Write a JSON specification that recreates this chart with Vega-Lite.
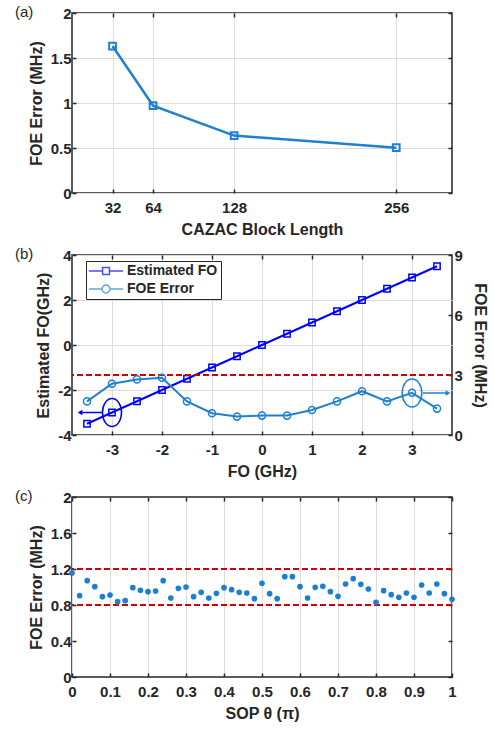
{
  "$schema": "https://vega.github.io/schema/vega-lite/v6.json",
  "padding": {"left": 14, "top": 4, "right": 5, "bottom": 5},
  "spacing": 62,
  "bounds": "flush",
  "config": {
    "font": "Liberation Sans",
    "view": {"stroke": "#262626", "strokeWidth": 1.5},
    "axis": {"domain": false, "labelFlush": false, "labelFont": "Liberation Sans", "labelFontWeight": "bold", "labelFontSize": 15, "labelColor": "#262626", "titleFont": "Liberation Sans", "titleFontWeight": "bold", "titleFontSize": 16, "titleColor": "#262626", "tickColor": "#262626", "tickSize": -4, "tickWidth": 1.5, "gridColor": "#dcdcdc", "gridWidth": 1, "labelExpr": "'' + datum.value"},
    "axisX": {"labelPadding": 11, "titlePadding": 6},
    "axisY": {"labelPadding": 5, "titlePadding": 6},
    "title": {"anchor": "start", "frame": "group", "font": "Liberation Sans", "fontSize": 15, "fontWeight": "normal", "color": "#262626", "offset": -14, "baseline": "middle", "dx": -57}
  },
  "datasets": {
    "a": [{"len": 32, "err": 1.633}, {"len": 64, "err": 0.971}, {"len": 128, "err": 0.638}, {"len": 256, "err": 0.504}],
    "b": [
      {"fo": -3.5, "est": -3.5, "err": 1.68}, {"fo": -3, "est": -3, "err": 2.56}, {"fo": -2.5, "est": -2.5, "err": 2.78},
      {"fo": -2, "est": -2, "err": 2.86}, {"fo": -1.5, "est": -1.5, "err": 1.68}, {"fo": -1, "est": -1, "err": 1.09},
      {"fo": -0.5, "est": -0.5, "err": 0.92}, {"fo": 0, "est": 0, "err": 0.97}, {"fo": 0.5, "est": 0.5, "err": 0.97},
      {"fo": 1, "est": 1, "err": 1.25}, {"fo": 1.5, "est": 1.5, "err": 1.68}, {"fo": 2, "est": 2, "err": 2.19},
      {"fo": 2.5, "est": 2.5, "err": 1.68}, {"fo": 3, "est": 3, "err": 2.11}, {"fo": 3.5, "est": 3.5, "err": 1.32}
    ],
    "bleg": [{"s": "Estimated FO"}, {"s": "FOE Error"}],
    "annL": [{"ex": -3, "ey": -3, "ax1": -3.2, "ax2": -3.6, "hx": -3.64}],
    "annR": [{"ex": 3, "ey": 2.1, "ax1": 3.22, "ax2": 3.7, "hx": 3.72}],
    "c": [
      {"t": 0, "err": 1.156}, {"t": 0.02, "err": 0.904}, {"t": 0.04, "err": 1.07}, {"t": 0.06, "err": 1.004},
      {"t": 0.08, "err": 0.893}, {"t": 0.1, "err": 0.911}, {"t": 0.12, "err": 0.837}, {"t": 0.14, "err": 0.848},
      {"t": 0.16, "err": 0.993}, {"t": 0.18, "err": 0.963}, {"t": 0.2, "err": 0.948}, {"t": 0.22, "err": 0.956},
      {"t": 0.24, "err": 1.07}, {"t": 0.26, "err": 0.878}, {"t": 0.28, "err": 0.985}, {"t": 0.3, "err": 1.0},
      {"t": 0.32, "err": 0.893}, {"t": 0.34, "err": 0.941}, {"t": 0.36, "err": 0.878}, {"t": 0.38, "err": 0.93},
      {"t": 0.4, "err": 0.993}, {"t": 0.42, "err": 0.97}, {"t": 0.44, "err": 0.941}, {"t": 0.46, "err": 0.933},
      {"t": 0.48, "err": 0.87}, {"t": 0.5, "err": 1.041}, {"t": 0.52, "err": 0.926}, {"t": 0.54, "err": 0.87},
      {"t": 0.56, "err": 1.115}, {"t": 0.58, "err": 1.115}, {"t": 0.6, "err": 1.004}, {"t": 0.62, "err": 0.878},
      {"t": 0.64, "err": 0.996}, {"t": 0.66, "err": 1.007}, {"t": 0.68, "err": 0.948}, {"t": 0.7, "err": 0.896},
      {"t": 0.72, "err": 1.033}, {"t": 0.74, "err": 1.093}, {"t": 0.76, "err": 1.03}, {"t": 0.78, "err": 0.978},
      {"t": 0.8, "err": 0.83}, {"t": 0.82, "err": 0.959}, {"t": 0.84, "err": 0.915}, {"t": 0.86, "err": 0.885},
      {"t": 0.88, "err": 0.933}, {"t": 0.9, "err": 0.885}, {"t": 0.92, "err": 1.022}, {"t": 0.94, "err": 0.933},
      {"t": 0.96, "err": 1.033}, {"t": 0.98, "err": 0.926}, {"t": 1.0, "err": 0.863}
    ]
  },
  "vconcat": [
    {
      "width": 380, "height": 180,
      "title": "(a)",
      "data": {"name": "a"},
      "layer": [
        {
          "mark": {"type": "line", "color": "#1f80d0", "strokeWidth": 2.5},
          "encoding": {
            "x": {"field": "len", "type": "quantitative", "scale": {"domain": [0, 300], "nice": false}, "axis": {"values": [32, 64, 128, 256], "title": "CAZAC Block Length"}},
            "y": {"field": "err", "type": "quantitative", "scale": {"domain": [0, 2], "nice": false}, "axis": {"values": [0, 0.5, 1, 1.5, 2], "title": "FOE Error (MHz)"}}
          }
        },
        {
          "mark": {"type": "point", "shape": "square", "filled": false, "color": "#1f80d0", "strokeWidth": 2, "size": 45, "opacity": 1},
          "encoding": {
            "x": {"field": "len", "type": "quantitative", "axis": null},
            "y": {"field": "err", "type": "quantitative", "axis": null}
          }
        },
        {
          "mark": {"type": "rule", "opacity": 0},
          "encoding": {"x": {"field": "len", "type": "quantitative", "axis": {"orient": "top", "values": [32, 64, 128, 256], "labels": false, "grid": false, "title": null}}}
        },
        {
          "mark": {"type": "rule", "opacity": 0},
          "encoding": {"y": {"field": "err", "type": "quantitative", "axis": {"orient": "right", "values": [0, 0.5, 1, 1.5, 2], "labels": false, "grid": false, "title": null}}}
        }
      ],
      "resolve": {"axis": {"x": "independent", "y": "independent"}}
    },
    {
      "width": 380, "height": 180,
      "title": "(b)",
      "layer": [
        {
          "data": {"name": "b"},
          "mark": {"type": "line", "color": "#0000ff", "strokeWidth": 2},
          "encoding": {
            "x": {"field": "fo", "type": "quantitative", "scale": {"domain": [-3.8, 3.8], "nice": false}, "axis": {"values": [-3, -2, -1, 0, 1, 2, 3], "title": "FO (GHz)"}},
            "y": {"field": "est", "type": "quantitative", "scale": {"domain": [-4, 4], "nice": false}, "axis": {"orient": "left", "values": [-4, -2, 0, 2, 4], "title": "Estimated FO(GHz)"}}
          }
        },
        {
          "data": {"name": "b"},
          "mark": {"type": "point", "shape": "square", "filled": false, "color": "#0000ff", "strokeWidth": 1.5, "size": 40, "opacity": 1},
          "encoding": {
            "x": {"field": "fo", "type": "quantitative", "axis": null},
            "y": {"field": "est", "type": "quantitative", "scale": {"domain": [-4, 4], "nice": false}, "axis": null}
          }
        },
        {
          "data": {"name": "annL"},
          "mark": {"type": "point", "shape": "M0,-1A0.68,1 0 1,1 0,1A0.68,1 0 1,1 0,-1Z", "filled": false, "color": "#0000ff", "strokeWidth": 1.5, "size": 784, "opacity": 1},
          "encoding": {
            "x": {"field": "ex", "type": "quantitative", "axis": null},
            "y": {"field": "ey", "type": "quantitative", "scale": {"domain": [-4, 4], "nice": false}, "axis": null}
          }
        },
        {
          "data": {"name": "annL"},
          "mark": {"type": "rule", "color": "#0000ff", "strokeWidth": 1.5},
          "encoding": {
            "x": {"field": "ax1", "type": "quantitative", "axis": null},
            "x2": {"field": "ax2"},
            "y": {"field": "ey", "type": "quantitative", "scale": {"domain": [-4, 4], "nice": false}, "axis": null}
          }
        },
        {
          "data": {"name": "annL"},
          "mark": {"type": "point", "shape": "triangle-left", "filled": true, "color": "#0000ff", "size": 30, "opacity": 1},
          "encoding": {
            "x": {"field": "hx", "type": "quantitative", "axis": null},
            "y": {"field": "ey", "type": "quantitative", "scale": {"domain": [-4, 4], "nice": false}, "axis": null}
          }
        },
        {
          "data": {"name": "b"},
          "mark": {"type": "rule", "color": "#d00000", "strokeWidth": 1.5, "strokeDash": [6, 3]},
          "encoding": {
            "y": {"datum": 3, "type": "quantitative", "scale": {"domain": [0, 9], "nice": false}, "axis": {"orient": "right", "values": [0, 3, 6, 9], "title": "FOE Error (MHz)", "grid": false, "titlePadding": 9, "labelPadding": 6}}
          }
        },
        {
          "data": {"name": "b"},
          "mark": {"type": "line", "color": "#1f80d0", "strokeWidth": 2},
          "encoding": {
            "x": {"field": "fo", "type": "quantitative", "axis": null},
            "y": {"field": "err", "type": "quantitative", "scale": {"domain": [0, 9], "nice": false}, "axis": null}
          }
        },
        {
          "data": {"name": "b"},
          "mark": {"type": "point", "shape": "circle", "filled": false, "color": "#1f80d0", "strokeWidth": 1.5, "size": 50, "opacity": 1},
          "encoding": {
            "x": {"field": "fo", "type": "quantitative", "axis": null},
            "y": {"field": "err", "type": "quantitative", "scale": {"domain": [0, 9], "nice": false}, "axis": null}
          }
        },
        {
          "data": {"name": "annR"},
          "mark": {"type": "point", "shape": "M0,-1A0.7,1 0 1,1 0,1A0.7,1 0 1,1 0,-1Z", "filled": false, "color": "#1f80d0", "strokeWidth": 1.5, "size": 784, "opacity": 1},
          "encoding": {
            "x": {"field": "ex", "type": "quantitative", "axis": null},
            "y": {"field": "ey", "type": "quantitative", "scale": {"domain": [0, 9], "nice": false}, "axis": null}
          }
        },
        {
          "data": {"name": "annR"},
          "mark": {"type": "rule", "color": "#1f80d0", "strokeWidth": 1.5},
          "encoding": {
            "x": {"field": "ax1", "type": "quantitative", "axis": null},
            "x2": {"field": "ax2"},
            "y": {"field": "ey", "type": "quantitative", "scale": {"domain": [0, 9], "nice": false}, "axis": null}
          }
        },
        {
          "data": {"name": "annR"},
          "mark": {"type": "point", "shape": "triangle-right", "filled": true, "color": "#1f80d0", "size": 30, "opacity": 1},
          "encoding": {
            "x": {"field": "hx", "type": "quantitative", "axis": null},
            "y": {"field": "ey", "type": "quantitative", "scale": {"domain": [0, 9], "nice": false}, "axis": null}
          }
        },
        {
          "data": {"name": "b"},
          "mark": {"type": "rule", "opacity": 0},
          "encoding": {"x": {"field": "fo", "type": "quantitative", "axis": {"orient": "top", "values": [-3, -2, -1, 0, 1, 2, 3], "labels": false, "grid": false, "title": null}}}
        },
        {
          "data": {"name": "bleg"},
          "transform": [{"filter": "datum.s == 'none'"}],
          "mark": {"type": "point", "filled": false, "strokeWidth": 1.5},
          "encoding": {
            "color": {"field": "s", "type": "nominal", "scale": {"domain": ["Estimated FO", "FOE Error"], "range": ["#0000ff", "#1f80d0"]},
              "legend": {"title": null, "orient": "none", "legendX": 14, "legendY": 248, "strokeColor": "#262626", "fillColor": "white", "padding": 3, "symbolSize": 130, "symbolStrokeWidth": 1.5, "symbolOffset": 10, "labelOffset": 14, "labelFont": "Liberation Sans", "labelFontWeight": "bold", "labelFontSize": 14, "labelColor": "#262626", "rowPadding": 4}},
            "shape": {"field": "s", "type": "nominal", "scale": {"domain": ["Estimated FO", "FOE Error"], "range": ["M-3,0H-0.6M0.6,0H3M-0.6,-0.6H0.6V0.6H-0.6Z", "M-3,0H-0.7M0.7,0H3M-0.7,0A0.7,0.7 0 1,0 0.7,0A0.7,0.7 0 1,0 -0.7,0Z"]},
              "legend": {"title": null, "orient": "none", "legendX": 14, "legendY": 248, "strokeColor": "#262626", "fillColor": "white", "padding": 3, "symbolSize": 130, "symbolStrokeWidth": 1.5, "symbolOffset": 10, "labelOffset": 14, "labelFont": "Liberation Sans", "labelFontWeight": "bold", "labelFontSize": 14, "labelColor": "#262626", "rowPadding": 4}}
          }
        }
      ],
      "resolve": {"scale": {"y": "independent"}, "axis": {"x": "independent"}}
    },
    {
      "width": 380, "height": 180,
      "title": "(c)",
      "data": {"name": "c"},
      "layer": [
        {
          "mark": {"type": "rule", "color": "#d00000", "strokeWidth": 1.5, "strokeDash": [6, 3]},
          "encoding": {"y": {"datum": 1.2, "type": "quantitative", "scale": {"domain": [0, 2], "nice": false}, "axis": null}}
        },
        {
          "mark": {"type": "rule", "color": "#d00000", "strokeWidth": 1.5, "strokeDash": [6, 3]},
          "encoding": {"y": {"datum": 0.8, "type": "quantitative", "axis": null}}
        },
        {
          "mark": {"type": "circle", "color": "#1a7fd0", "size": 32, "opacity": 1},
          "encoding": {
            "x": {"field": "t", "type": "quantitative", "scale": {"domain": [0, 1], "nice": false}, "axis": {"values": [0, 0.1, 0.2, 0.3, 0.4, 0.5, 0.6, 0.7, 0.8, 0.9, 1], "title": "SOP θ (π)"}},
            "y": {"field": "err", "type": "quantitative", "scale": {"domain": [0, 2], "nice": false}, "axis": {"values": [0, 0.4, 0.8, 1.2, 1.6, 2], "title": "FOE Error (MHz)"}}
          }
        },
        {
          "mark": {"type": "rule", "opacity": 0},
          "encoding": {"x": {"field": "t", "type": "quantitative", "axis": {"orient": "top", "values": [0, 0.1, 0.2, 0.3, 0.4, 0.5, 0.6, 0.7, 0.8, 0.9, 1], "labels": false, "grid": false, "title": null}}}
        },
        {
          "mark": {"type": "rule", "opacity": 0},
          "encoding": {"y": {"field": "err", "type": "quantitative", "axis": {"orient": "right", "values": [0, 0.4, 0.8, 1.2, 1.6, 2], "labels": false, "grid": false, "title": null}}}
        }
      ],
      "resolve": {"axis": {"x": "independent", "y": "independent"}}
    }
  ]
}
